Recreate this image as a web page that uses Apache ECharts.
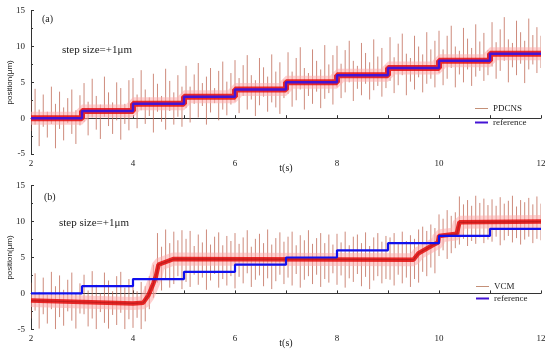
<!DOCTYPE html>
<html><head><meta charset="utf-8">
<script src="https://cdn.jsdelivr.net/npm/echarts@6/dist/echarts.min.js"></script>
<style>html,body{margin:0;padding:0;background:#fff}#c{width:550px;height:351px}</style>
</head><body><div id="c"></div>
<script>
// ---- data ----
// reference step command (t in s, position in µm)
const refT = [2,3,4,5,6,7,8,9,10,11,12];
const refY = [0,1,2,3,4,5,6,7,8,9,9];
// smoothed centre of the PDCNS trace (follows the steps)
const pdcnsCoreT = [2,3,4,5,6,7,8,9,10,11,12];
const pdcnsCoreY = [0,1,2,3,4,5,6,7,8,9,9];
// smoothed centre of the VCM trace
const vcmCoreT = [2,3,4,4.2,4.3,4.4,4.45,4.5,4.8,9.5,9.6,9.9,9.98,10.0,10.35,10.4,12];
const vcmCoreY = [-1.0,-1.2,-1.4,-1.3,-0.3,1.4,2.4,4.0,4.8,4.7,5.6,6.8,7.1,8.0,8.3,9.9,10.0];
// noise spikes: one every 0.08 s from t=2, low and high extremes (µm)
const spikeStart = 2, spikeStep = 0.08;
const pdcnsHi = [
 2.5,4.1,1.2,3.3,0.9,4.4,2.0,3.7,1.5,2.8,4.0,1.1,3.2,
 4.9,2.3,5.5,3.1,1.9,5.8,3.6,2.2,5.0,4.2,2.0,5.3,
 5.6,3.3,6.7,4.0,2.9,6.2,4.8,3.1,6.9,5.2,3.6,6.0,4.4,
 7.3,4.4,6.1,7.7,4.9,5.8,7.0,4.2,6.6,7.9,5.1,6.3,
 8.1,5.6,7.4,8.8,6.0,5.3,8.4,7.1,5.8,8.9,6.5,7.8,5.4,
 9.2,6.5,8.4,9.9,7.0,6.3,9.6,8.0,6.8,10.2,7.5,8.8,
 10.1,7.6,9.5,10.8,8.0,7.3,10.5,9.1,7.8,11.0,8.6,9.8,7.4,
 11.3,8.5,10.4,11.8,9.0,8.4,11.5,10.0,8.9,12.0,9.6,10.8,
 12.2,9.6,11.5,12.9,10.0,9.4,12.6,11.1,9.8,13.1,10.7,11.9,9.5,
 13.4,10.6,12.4,14.1,11.0,10.5,13.6,12.0,10.8,13.9,11.6,12.7,
 11.5
];
const pdcnsLo = [
 -1.8,-0.9,-3.9,-1.2,-2.7,-0.8,-4.2,-1.5,-3.1,-0.7,-2.2,-3.6,-1.0,
 -0.5,-2.4,0.1,-1.6,-2.9,0.2,-1.1,-2.2,-0.3,-3.0,-0.8,-1.7,
 0.6,-1.4,1.1,-0.8,0.3,-2.0,0.9,-0.5,-1.6,1.0,-0.9,0.2,-1.2,
 1.4,-0.6,2.0,0.1,1.7,-0.9,0.8,2.1,-0.3,1.2,0.4,1.9,
 2.3,0.7,3.1,1.2,2.6,0.3,1.8,3.0,0.9,2.2,1.5,0.6,2.8,
 3.4,1.6,2.5,4.0,1.2,3.1,2.0,3.7,1.4,2.7,3.5,1.9,
 4.3,2.8,3.6,5.0,2.4,4.1,3.2,4.8,2.6,3.9,4.5,3.0,4.2,
 5.2,3.5,4.6,6.0,3.2,5.1,4.0,5.7,3.6,4.8,5.5,4.3,
 6.3,4.6,5.5,7.0,4.3,6.1,5.0,6.8,4.5,5.8,6.6,5.2,6.0,
 7.2,5.5,6.6,8.0,5.0,7.1,6.0,7.6,4.9,6.8,7.5,6.3,
 7.0
];
const vcmHi = [
 1.5,2.8,0.2,2.2,-0.2,3.0,1.0,2.5,0.5,1.9,2.9,0.0,1.4,
 2.6,0.4,3.1,1.2,0.0,2.9,1.8,0.3,2.4,3.0,0.8,2.0,
 2.1,0.3,1.6,1.0,2.4,4.0,8.4,6.5,8.9,7.0,8.6,7.4,8.8,
 7.6,8.7,6.6,8.2,7.1,8.9,6.8,7.9,8.5,6.7,8.0,7.3,
 8.4,6.9,7.8,8.8,6.5,7.6,8.3,7.0,8.9,6.8,7.7,8.5,7.2,
 7.9,8.6,6.7,8.1,7.4,8.8,6.9,7.7,8.4,7.0,8.2,6.8,
 8.3,7.1,8.6,6.7,7.9,8.2,7.0,8.5,6.6,7.8,8.4,7.2,8.0,
 7.8,8.4,7.0,8.6,7.3,8.1,7.6,8.9,9.3,8.7,9.6,9.1,
 11.0,10.4,11.6,10.8,11.3,13.5,12.4,13.0,12.2,13.6,12.6,13.2,12.3,
 13.1,12.2,13.4,12.5,12.9,13.6,12.1,13.0,12.7,13.3,12.4,13.5,
 12.5
];
const vcmLo = [
 -3.5,-2.4,-4.9,-2.9,-4.2,-2.2,-5.0,-3.3,-4.5,-2.5,-3.8,-4.9,-2.8,
 -2.9,-4.6,-3.5,-5.0,-2.6,-4.1,-4.9,-3.0,-4.4,-2.7,-5.0,-3.6,
 -4.8,-3.4,-5.0,-3.9,-2.2,-0.6,1.5,0.4,2.0,0.8,1.3,2.4,0.6,
 1.6,0.9,2.6,1.2,2.2,0.5,1.8,2.7,0.8,2.0,1.1,2.4,
 0.7,2.3,1.4,2.8,0.9,1.9,2.5,1.0,2.1,0.6,1.7,2.6,1.3,
 2.2,1.1,2.7,0.8,1.9,2.4,1.3,2.6,0.9,2.0,1.5,2.8,
 1.2,2.5,0.8,2.1,1.6,2.7,1.0,2.3,0.6,1.8,2.4,1.4,2.0,
 1.9,1.1,2.6,1.4,2.2,0.9,2.0,1.5,3.0,2.4,3.6,2.8,
 5.2,6.0,4.8,5.6,6.3,6.8,7.6,6.6,7.3,6.9,7.8,7.0,7.5,
 7.2,7.9,6.7,7.4,8.0,7.1,7.7,6.8,7.5,7.9,7.0,7.6,
 7.4
];
const yTicks = [-5,0,5,10,15];
const xTicks = [2,4,6,8,10,12];

// ---- build ----
const serif = 'Liberation Serif';
const zip = (a,b) => a.map((v,i)=>[v,b[i]]);
const spikeData = (lo,hi) => lo.map((v,i)=>[+(spikeStart+i*spikeStep).toFixed(3), v, hi[i]]);
const refPairs = zip(refT, refY);
const coreA = zip(pdcnsCoreT, pdcnsCoreY);
const coreB = zip(vcmCoreT, vcmCoreY);

function xAxis(gi){
  return {gridIndex:gi,type:'value',min:2,max:12,interval:1,
    axisLine:{lineStyle:{color:'#333',width:1}},
    axisTick:{inside:true,length:3,lineStyle:{color:'#333'}},
    splitLine:{show:false},
    axisLabel:{fontFamily:serif,fontSize:9,color:'#222',margin:5,
      formatter:v=>xTicks.includes(v)?String(v):''},
    name:'t(s)',nameLocation:'middle',nameGap:9,nameMoveOverlap:false,
    nameTextStyle:{fontFamily:serif,fontSize:10,color:'#222'}};
}
function yAxis(gi){
  return {gridIndex:gi,type:'value',min:-5,max:15,interval:5,
    axisLine:{show:true,lineStyle:{color:'#333',width:1}},
    axisTick:{show:true,inside:true,length:3,lineStyle:{color:'#333'}},
    minorTick:{show:true,splitNumber:2,length:2,lineStyle:{color:'#333'}},
    splitLine:{show:false},
    axisLabel:{fontFamily:serif,fontSize:9,color:'#222',margin:6,
      formatter:v=>yTicks.includes(v)?String(v):''},
    name:'position(μm)',nameLocation:'middle',nameGap:17,nameRotate:90,nameMoveOverlap:false,
    nameTextStyle:{fontFamily:'Liberation Sans',fontSize:8,color:'#222'}};
}
function lineS(name,gi,data,color,width,opts){
  return Object.assign({name,type:'line',xAxisIndex:gi,yAxisIndex:gi,data,
    symbol:'none',showSymbol:false,silent:true,animation:false,
    lineStyle:{color,width},itemStyle:{color}},opts||{});
}
function spikeS(name,gi,data){
  return {name,type:'custom',xAxisIndex:gi,yAxisIndex:gi,data,clip:true,silent:true,animation:false,
    encode:{x:0,y:[1,2]},
    renderItem:(params,api)=>{
      const a = api.coord([api.value(0), api.value(1)]);
      const b = api.coord([api.value(0), api.value(2)]);
      return {type:'line',shape:{x1:a[0],y1:a[1],x2:b[0],y2:b[1]},
        style:{stroke:'rgba(190,100,80,0.75)',lineWidth:1}};
    }};
}
const tanLegend = {color:'#c49078',width:1};
const option = {
  backgroundColor:'#fff',
  animation:false,
  grid:[
    {left:31,right:9,top:10.7,height:143.3,outerBoundsMode:'none',containLabel:false},
    {left:31,right:9,top:185.7,height:143.6,outerBoundsMode:'none',containLabel:false}
  ],
  xAxis:[xAxis(0),xAxis(1)],
  yAxis:[yAxis(0),yAxis(1)],
  legend:[
    {data:[{name:'PDCNS',lineStyle:tanLegend},'reference'],orient:'vertical',left:469,top:99,
     itemWidth:13,itemHeight:8,itemGap:5,itemStyle:{opacity:0},
     textStyle:{fontFamily:serif,fontSize:9,color:'#222'},selectedMode:false},
    {data:[{name:'VCM',lineStyle:tanLegend},'reference'],orient:'vertical',left:470,top:277,
     itemWidth:13,itemHeight:8,itemGap:3,itemStyle:{opacity:0},
     textStyle:{fontFamily:serif,fontSize:9,color:'#222'},selectedMode:false}
  ],
  series:[
    lineS('haloA',0,coreA,'rgba(255,170,170,0.55)',13,{step:'end'}),
    spikeS('spikesA',0,spikeData(pdcnsLo,pdcnsHi)),
    lineS('PDCNS',0,coreA,'rgba(230,12,12,0.85)',6,{step:'end'}),
    lineS('reference',0,refPairs,'#4414d4',2.5,{step:'end'}),
    lineS('haloB',1,coreB,'rgba(255,170,170,0.55)',13),
    spikeS('spikesB',1,spikeData(vcmLo,vcmHi)),
    lineS('VCM',1,coreB,'rgba(228,10,10,0.85)',4.5),
    lineS('coreLineB',1,coreB,'rgba(150,20,20,0.45)',1.2),
    lineS('reference',1,refPairs,'#1010ee',2.2,{step:'end'})
  ],
  graphic:[
    {type:'text',left:42,top:14,style:{text:'(a)',font:'10px "Liberation Serif"',fill:'#222'}},
    {type:'text',left:62,top:45,style:{text:'step size=+1μm',font:'11px "Liberation Serif"',fill:'#222'}},
    {type:'text',left:44,top:192,style:{text:'(b)',font:'10px "Liberation Serif"',fill:'#222'}},
    {type:'text',left:59,top:218,style:{text:'step size=+1μm',font:'11px "Liberation Serif"',fill:'#222'}}
  ]
};
const chart = echarts.init(document.getElementById('c'),null,{renderer:'canvas'});
chart.setOption(option);
</script></body></html>
